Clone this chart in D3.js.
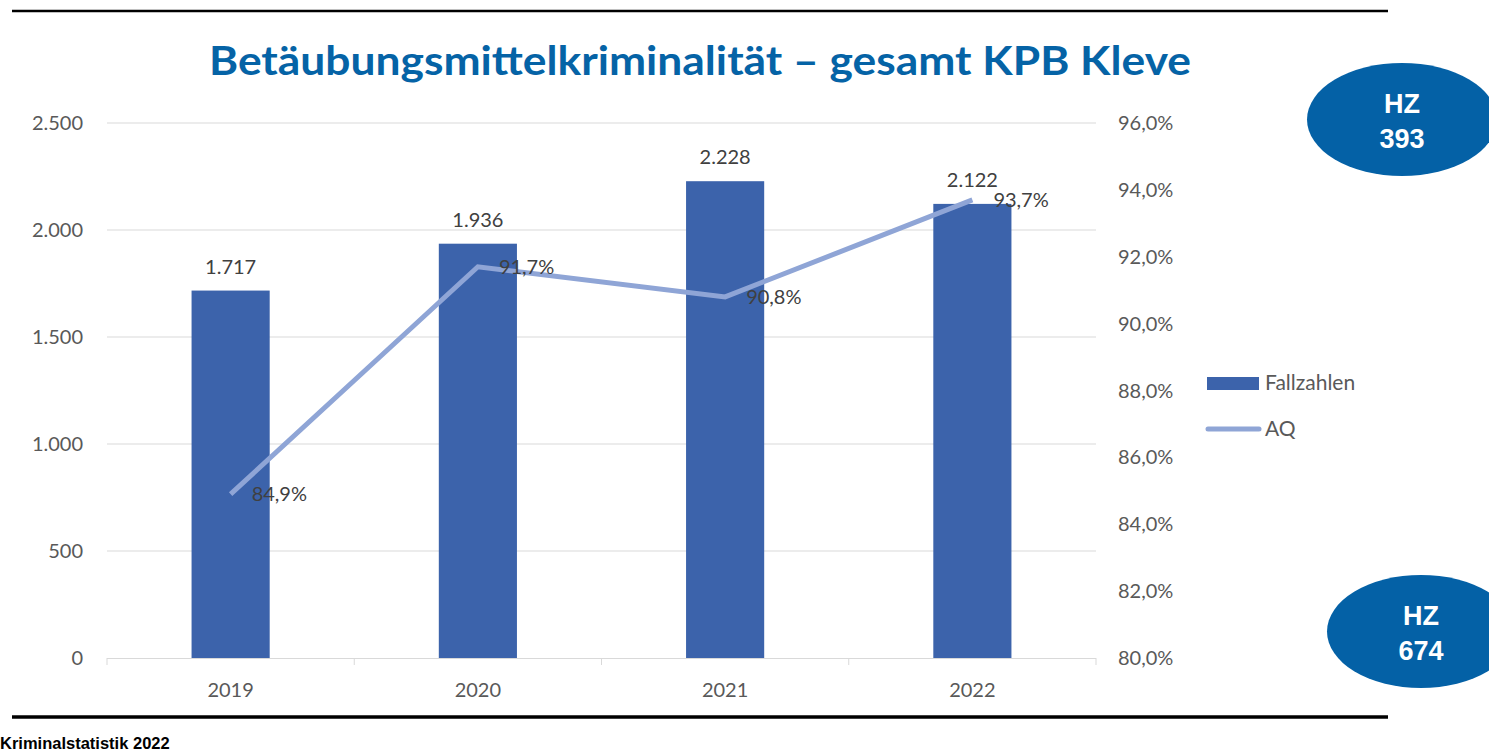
<!DOCTYPE html>
<meta charset="utf-8">
<style>
body { margin: 0; background: #fff; }
text { font-family: Lato, "Open Sans", sans-serif; }
</style>
<body>
<script src="https://d3js.org/d3.v7.min.js"></script>
<script>

const width = 1489
const height = 751

// chart data
const years = ['2019', '2020', '2021', '2022']
const cases = [1717, 1936, 2228, 2122]
const clearance = [84.9, 91.7, 90.8, 93.7]
const leftTicks = [0, 500, 1000, 1500, 2000, 2500]
const rightTicks = [80, 82, 84, 86, 88, 90, 92, 94, 96]
const badges = [['HZ', '393'], ['HZ', '674']]

const fmtNum = d3.formatLocale({ decimal: ',', thousands: '.', grouping: [3], currency: ['', '€'] })
const intFmt = fmtNum.format(',d')
const pctFmt = d => fmtNum.format('.1f')(d) + '%'

const svg = d3.select('body').append('svg')
	.attr('width', width)
	.attr('height', height)

// frame lines
svg.append('line').attr('x1', 12).attr('x2', 1388).attr('y1', 11).attr('y2', 11)
	.attr('stroke', '#000').attr('stroke-width', 2.5)
svg.append('line').attr('x1', 12).attr('x2', 1388).attr('y1', 717).attr('y2', 717)
	.attr('stroke', '#000').attr('stroke-width', 3.5)
svg.append('text').attr('x', 0).attr('y', 749)
	.style('font-family', 'Liberation Sans, Arial, sans-serif')
	.style('font-weight', 'bold').style('font-size', '16.5px')
	.text('Kriminalstatistik 2022')

// title
svg.append('text').attr('x', 700).attr('y', 75)
	.attr('text-anchor', 'middle')
	.attr('textLength', 982).attr('lengthAdjust', 'spacingAndGlyphs')
	.style('font-weight', 'bold').style('font-size', '40px')
	.attr('fill', '#0563a6')
	.text('Betäubungsmittelkriminalität – gesamt KPB Kleve')

// scales
const x0 = 107, x1 = 1096
const x = d3.scaleBand().domain(years).range([x0, x1]).paddingInner(0.684).paddingOuter(0.342)
const xc = d3.scaleBand().domain(years).range([x0, x1])
const y = d3.scaleLinear().domain([0, 2500]).range([658, 123])
const y2 = d3.scaleLinear().domain([80, 96]).range([658, 123])

// gridlines
svg.append('g').selectAll('line').data(leftTicks.slice(1)).join('line')
	.attr('x1', x0).attr('x2', x1)
	.attr('y1', d => y(d)).attr('y2', d => y(d))
	.attr('stroke', '#d9d9d9').attr('stroke-width', 1)

// left axis labels
svg.append('g').selectAll('text').data(leftTicks).join('text')
	.attr('x', 83).attr('y', d => y(d)).attr('dy', '0.35em')
	.attr('text-anchor', 'end').attr('fill', '#595959').style('font-size', '20px')
	.text(d => intFmt(d))

// right axis labels
svg.append('g').selectAll('text').data(rightTicks).join('text')
	.attr('x', 1118).attr('y', d => y2(d)).attr('dy', '0.35em')
	.attr('fill', '#595959').style('font-size', '20px')
	.text(d => pctFmt(d))

// x axis
const xAxis = svg.append('g')
xAxis.append('line').attr('x1', x0).attr('x2', x1).attr('y1', 658.5).attr('y2', 658.5)
	.attr('stroke', '#d9d9d9')
xAxis.selectAll('.tk').data(years.map(d => xc(d)).concat([x1])).join('line')
	.attr('x1', d => d).attr('x2', d => d).attr('y1', 658).attr('y2', 665)
	.attr('stroke', '#d9d9d9')
xAxis.selectAll('text').data(years).join('text')
	.attr('x', d => xc(d) + xc.bandwidth() / 2).attr('y', 690).attr('dy', '0.35em')
	.attr('text-anchor', 'middle').attr('fill', '#595959').style('font-size', '20px')
	.text(d => d)

// bars
svg.append('g').selectAll('rect').data(years).join('rect')
	.attr('x', d => x(d)).attr('width', x.bandwidth())
	.attr('y', (d, i) => y(cases[i])).attr('height', (d, i) => y(0) - y(cases[i]))
	.attr('fill', '#3c63ab')

// bar labels
svg.append('g').selectAll('text').data(years).join('text')
	.attr('x', d => x(d) + x.bandwidth() / 2).attr('y', (d, i) => y(cases[i]) - 24)
	.attr('dy', '0.35em').attr('text-anchor', 'middle')
	.attr('fill', '#404040').style('font-size', '20px')
	.text((d, i) => intFmt(cases[i]))

// line
const line = d3.line()
	.x((d, i) => xc(years[i]) + xc.bandwidth() / 2)
	.y(d => y2(d))
svg.append('path').datum(clearance)
	.attr('d', line).attr('fill', 'none')
	.attr('stroke', '#8fa5d6').attr('stroke-width', 5)

svg.append('g').selectAll('text').data(clearance).join('text')
	.attr('x', (d, i) => xc(years[i]) + xc.bandwidth() / 2 + 21)
	.attr('y', d => y2(d)).attr('dy', '0.35em')
	.attr('fill', '#404040').style('font-size', '20px')
	.text(d => pctFmt(d))

// legend
const lg = svg.append('g')
lg.append('rect').attr('x', 1207).attr('y', 377).attr('width', 52).attr('height', 13).attr('fill', '#3c63ab')
lg.append('text').attr('x', 1265).attr('y', 383).attr('dy', '0.35em')
	.attr('fill', '#595959').style('font-size', '21px').text('Fallzahlen')
lg.append('line').attr('x1', 1208).attr('x2', 1259).attr('y1', 429).attr('y2', 429)
	.attr('stroke', '#8fa5d6').attr('stroke-width', 5).attr('stroke-linecap', 'round')
lg.append('text').attr('x', 1265).attr('y', 429).attr('dy', '0.35em')
	.attr('fill', '#595959').style('font-size', '21px').text('AQ')

// badges
const badgePos = [[1402, 119.5, 95], [1421, 631.5, 94]]
badges.forEach((b, i) => {
	const [cx, cy, rx] = badgePos[i]
	const g = svg.append('g')
	g.append('ellipse').attr('cx', cx).attr('cy', cy).attr('rx', rx).attr('ry', 56.5).attr('fill', '#0461a6')
	g.selectAll('text').data(b).join('text')
		.attr('x', cx).attr('y', (d, j) => cy - 16 + j * 35).attr('dy', '0.35em')
		.attr('text-anchor', 'middle').attr('fill', '#fff')
		.style('font-family', 'Liberation Sans, Arial, sans-serif')
		.style('font-weight', 'bold').style('font-size', '27px')
		.text(d => d)
})

</script>
</body>
</html>
